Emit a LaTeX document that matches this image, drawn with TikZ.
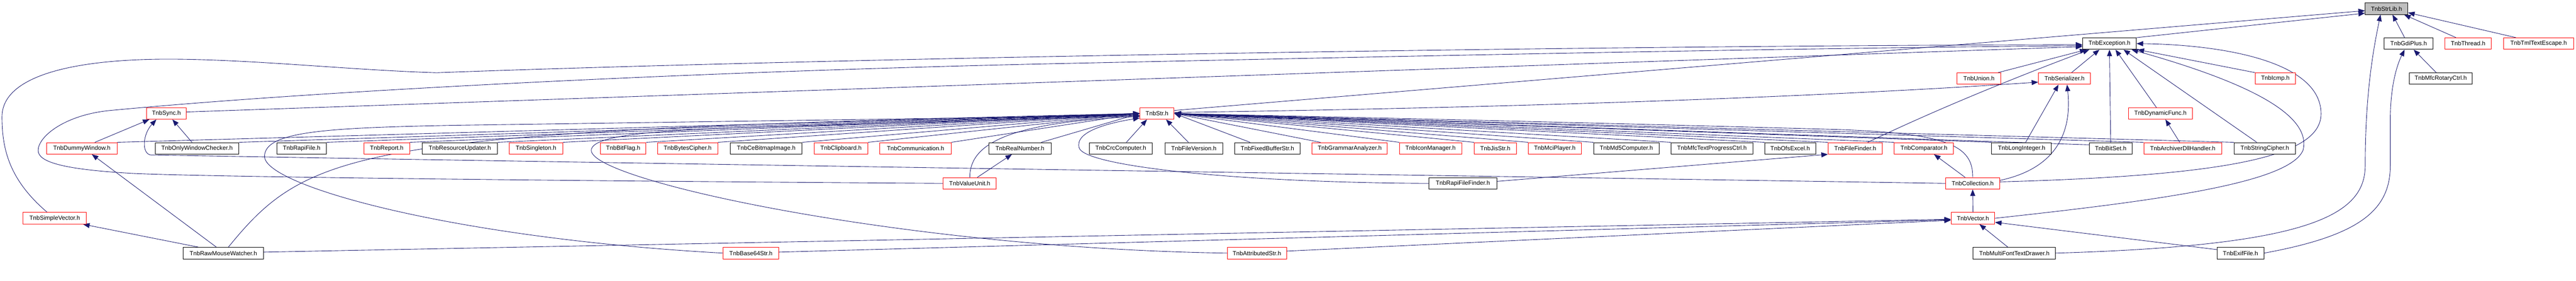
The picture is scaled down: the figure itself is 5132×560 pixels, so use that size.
\documentclass[tikz,border=0pt]{standalone}
\usepackage{fontspec}
\setmainfont{Liberation Sans}
\usetikzlibrary{arrows.meta,calc}
\definecolor{edgeblue}{HTML}{191970}
\definecolor{rootgray}{HTML}{BFBFBF}
\pgfdeclarelayer{bg}
\pgfdeclarelayer{edges}
\pgfsetlayers{bg,edges,main}
\begin{document}
\begin{tikzpicture}[x=1pt,y=-1pt,
  boxb/.style={draw=black, fill=white, line width=1pt, minimum height=23pt, inner sep=0pt, font=\fontsize{12}{14}\selectfont},
  boxr/.style={boxb, draw=red},
  boxg/.style={boxb, fill=rootgray},
  edg/.style={draw=edgeblue, line width=0.9pt, -{Triangle[length=13pt,width=10pt,fill=edgeblue]}},
]
\begin{pgfonlayer}{bg}
\fill[white] (0,0) rectangle (5132,560);
\end{pgfonlayer}
\useasboundingbox (0,0) rectangle (5132,560);

% ---------- nodes ----------
\node[boxg, minimum width=85pt] (strlib) at (4754.5,17.3) {TnbStrLib.h};
\node[boxb, minimum width=107pt] (exc) at (4202.5,87) {TnbException.h};
\node[boxb, minimum width=97pt] (gdi) at (4798.5,87) {TnbGdiPlus.h};
\node[boxr, minimum width=92pt] (thread) at (4917,87) {TnbThread.h};
\node[boxr, minimum width=139pt] (tml) at (5057.5,87) {TnbTmlTextEscape.h};
\node[boxr, minimum width=87pt] (union) at (3942.5,156.8) {TnbUnion.h};
\node[boxr, minimum width=104pt] (ser) at (4113,156.8) {TnbSerializer.h};
\node[boxr, minimum width=80pt] (icmp) at (4533,156.8) {TnbIcmp.h};
\node[boxb, minimum width=125pt] (rot) at (4862.5,156.8) {TnbMfcRotaryCtrl.h};
\node[boxr, minimum width=79pt] (sync) at (331.5,226.3) {TnbSync.h};
\node[boxr, minimum width=68pt] (str) at (2305,226.3) {TnbStr.h};
\node[boxr, minimum width=128pt] (dfunc) at (4304,226.3) {TnbDynamicFunc.h};
% row 4
\node[boxr, minimum width=140pt] (dw) at (163,295.8) {TnbDummyWindow.h};
\node[boxb, minimum width=167pt] (owc) at (392.5,295.8) {TnbOnlyWindowChecker.h};
\node[boxb, minimum width=98pt] (rapi) at (601,295.8) {TnbRapiFile.h};
\node[boxr, minimum width=91pt] (report) at (770.5,295.8) {TnbReport.h};
\node[boxb, minimum width=150pt] (resupd) at (916,295.8) {TnbResourceUpdater.h};
\node[boxr, minimum width=106pt] (single) at (1068,295.8) {TnbSingleton.h};
\node[boxr, minimum width=91pt] (bitflag) at (1241.5,295.8) {TnbBitFlag.h};
\node[boxr, minimum width=120pt] (bcipher) at (1370,295.8) {TnbBytesCipher.h};
\node[boxb, minimum width=143pt] (cebmp) at (1526.5,295.8) {TnbCeBitmapImage.h};
\node[boxr, minimum width=107pt] (clip) at (1675.5,295.8) {TnbClipboard.h};
\node[boxr, minimum width=142pt] (comm) at (1824,295.8) {TnbCommunication.h};
\node[boxb, minimum width=124pt] (realn) at (2032,295.8) {TnbRealNumber.h};
\node[boxb, minimum width=126pt] (crc) at (2233,295.8) {TnbCrcComputer.h};
\node[boxb, minimum width=115pt] (fver) at (2378.5,295.8) {TnbFileVersion.h};
\node[boxb, minimum width=130pt] (fbs) at (2525,295.8) {TnbFixedBufferStr.h};
\node[boxr, minimum width=150pt] (gram) at (2689,295.8) {TnbGrammarAnalyzer.h};
\node[boxr, minimum width=124pt] (icon) at (2850,295.8) {TnbIconManager.h};
\node[boxr, minimum width=84pt] (jis) at (2979,295.8) {TnbJisStr.h};
\node[boxr, minimum width=105pt] (mci) at (3097.5,295.8) {TnbMciPlayer.h};
\node[boxb, minimum width=130pt] (md5) at (3240,295.8) {TnbMd5Computer.h};
\node[boxb, minimum width=163pt] (mtpc) at (3410.5,295.8) {TnbMfcTextProgressCtrl.h};
\node[boxb, minimum width=101pt] (ofs) at (3566.5,295.8) {TnbOfsExcel.h};
\node[boxr, minimum width=108pt] (ff) at (3696,295.8) {TnbFileFinder.h};
\node[boxr, minimum width=118pt] (comp) at (3833,295.8) {TnbComparator.h};
\node[boxb, minimum width=119pt] (li) at (4027.5,295.8) {TnbLongInteger.h};
\node[boxb, minimum width=86pt] (bitset) at (4205,295.8) {TnbBitSet.h};
\node[boxr, minimum width=155pt] (adh) at (4348.5,295.8) {TnbArchiverDllHandler.h};
\node[boxb, minimum width=122pt] (sc) at (4512,295.8) {TnbStringCipher.h};
% row 5
\node[boxr, minimum width=106pt] (vu) at (1932,365.7) {TnbValueUnit.h};
\node[boxb, minimum width=135pt] (rff) at (2914.5,365.7) {TnbRapiFileFinder.h};
\node[boxr, minimum width=108pt] (coll) at (3930,365.7) {TnbCollection.h};
% row 6
\node[boxr, minimum width=126pt] (sv) at (109,435.3) {TnbSimpleVector.h};
\node[boxr, minimum width=87pt] (vec) at (3930.5,435.3) {TnbVector.h};
% row 7
\node[boxb, minimum width=160pt] (rmw) at (445,504.8) {TnbRawMouseWatcher.h};
\node[boxr, minimum width=110pt] (b64) at (1496,504.8) {TnbBase64Str.h};
\node[boxr, minimum width=118pt] (astr) at (2504,504.8) {TnbAttributedStr.h};
\node[boxb, minimum width=164pt] (mftd) at (4013,504.8) {TnbMultiFontTextDrawer.h};
\node[boxb, minimum width=93pt] (exif) at (4463.5,504.8) {TnbExifFile.h};

% ---------- edges (on a layer below the nodes) ----------
\begin{pgfonlayer}{edges}
% into StrLib
\draw[edg] (exc.north east) -- ($(strlib.south west)+(0,-3)$);
\draw[edg] ($(str.north east)+(0,6)$) -- ($(strlib.west)+(0,4)$);
\draw[edg] (mftd.east) .. controls (4600,490) and (4712,430) .. (4712,330) .. controls (4712,180) and (4730,90) .. ($(strlib.south)+(-12,0)$);
\draw[edg] ($(gdi.north)+(-8,0)$) -- ($(strlib.south)+(12,0)$);
\draw[edg] ($(thread.north)+(-24,0)$) -- ($(strlib.south east)+(-8,0)$);
\draw[edg] ($(tml.north)+(-45,0)$) -- ($(strlib.east)+(0,8)$);
% into GdiPlus
\draw[edg] ($(rot.north)+(-9,0)$) -- ($(gdi.south)+(10,0)$);
\draw[edg] (exif.east) .. controls (4700,470) and (4762,420) .. (4762,330) -- (4762,240) .. controls (4762,160) and (4780,120) .. ($(gdi.south)+(-8,0)$);
% into Exception
\draw[edg] ($(sv.north)+(-15,0)$) .. controls (20,360) and (4,300) .. (4,233) .. controls (4,150) and (150,118) .. (335,118) .. controls (500,118) and (700,140) .. (870,145) .. controls (1600,118) and (3000,92) .. ($(exc.west)+(0,2)$);
\draw[edg] (vu.west) .. controls (1000,360) and (400,352) .. (268,346) .. controls (120,338) and (76,322) .. (76,300) .. controls (76,272) and (130,228) .. (223,220) .. controls (700,175) and (1500,140) .. (2100,127) .. controls (2800,112) and (3500,97) .. ($(exc.west)+(0,4)$);
\draw[edg] ($(sync.east)+(0,-3)$) -- ($(exc.west)+(0,6)$);
\draw[edg] ($(union.north east)+(-6,0)$) -- ($(exc.south west)+(8,0)$);
\draw[edg] ($(ff.north)+(25,0)$) .. controls (3850,222) and (4000,160) .. ($(exc.south west)+(14,0)$);
\draw[edg] ($(ser.north)+(14,0)$) -- ($(exc.south)+(-20,0)$);
\draw[edg] (bitset.north) -- (exc.south);
\draw[edg] ($(dfunc.north)+(-8,0)$) -- ($(exc.south)+(12,0)$);
\draw[edg] ($(sc.north)+(-16,0)$) -- ($(exc.south)+(28,0)$);
\draw[edg] (vec.east) .. controls (4300,400) and (4560,365) .. (4588,300) .. controls (4605,235) and (4500,170) .. ($(exc.south east)+(-10,0)$);
\draw[edg] ($(coll.east)+(0,-3)$) .. controls (4450,350) and (4624,310) .. (4624,227) .. controls (4624,120) and (4420,89) .. (exc.east);
\draw[edg] (icmp.north west) -- ($(exc.south east)+(2,0)$);
% into Str (left side)
\foreach \n in {dw,owc,rapi,report,resupd,single,bitflag,bcipher,cebmp,clip,comm}
  \draw[edg] (\n.north east) -- (str.west);
\draw[edg] ($(realn.north east)+(-20,0)$) -- (str.west);
\draw[edg] ($(rmw.north)+(10,0)$) .. controls (620,290) and (720,262) .. (str.west);
\draw[edg] (vu.north) .. controls (1932,290) and (2000,245) .. ($(str.west)+(0,6)$);
\draw[edg] (b64.west) .. controls (900,475) and (527,370) .. (527,312) .. controls (527,262) and (650,255) .. (900,250) -- ($(str.west)+(0,4)$);
\draw[edg] (astr.west) .. controls (1800,495) and (1178,360) .. (1178,300) .. controls (1178,270) and (1300,260) .. (1500,254) -- ($(str.west)+(0,5)$);
% into Str (bottom)
\draw[edg] ($(crc.north)+(11,0)$) -- ($(str.south)+(-20,0)$);
\draw[edg] ($(fver.north)+(-11,0)$) -- ($(str.south)+(18,0)$);
% into Str (right side)
\draw[edg] ($(fbs.north west)+(31,0)$) -- (str.east);
\draw[edg] ($(gram.north west)+(17,0)$) -- (str.east);
\foreach \n in {icon,jis,mci,md5,mtpc,ofs,ff,comp,li,adh,sc}
  \draw[edg] (\n.north west) -- (str.east);
\draw[edg] ($(bitset.north west)+(0,5)$) -- (str.east);
\draw[edg] (rff.west) .. controls (2450,364) and (2160,330) .. (2150,295) .. controls (2140,262) and (2210,245) .. ($(str.south west)+(0,-3)$);
\draw[edg] (coll.north) .. controls (3931,290) and (3880,265) .. (3650,258) .. controls (3000,240) and (2500,230) .. (str.east);
% into Sync
\draw[edg] ($(dw.north)+(26,0)$) -- ($(sync.south west)+(6,0)$);
\draw[edg] ($(owc.north)+(-10,0)$) -- ($(sync.south)+(12,0)$);
\draw[edg] (coll.west) .. controls (3000,352) and (1200,325) .. (300,309) .. controls (282,306) and (284,268) .. ($(sync.south)+(-20,0)$);
% into DummyWindow / SimpleVector
\draw[edg] ($(rmw.north)+(-14,0)$) -- ($(dw.south)+(20,0)$);
\draw[edg] ($(rmw.north)+(-50,0)$) -- ($(sv.south east)+(-7,0)$);
% into RealNumber
\draw[edg] ($(vu.north)+(15,0)$) -- ($(realn.south)+(-16,0)$);
% into Serializer
\draw[edg] ($(str.east)+(0,-2)$) .. controls (3000,215) and (3600,195) .. ($(ser.west)+(0,7)$);
\draw[edg] ($(li.north)+(8,0)$) -- ($(ser.south)+(-12,0)$);
\draw[edg] ($(coll.east)+(0,-6)$) .. controls (4100,335) and (4128,260) .. ($(ser.south)+(5,0)$);
% into FileFinder, Comparator, Collection
\draw[edg] ($(rff.east)+(0,-4)$) -- (ff.south west);
\draw[edg] ($(coll.north)+(-15,0)$) -- ($(comp.south)+(20,0)$);
\draw[edg] (vec.north) -- (coll.south);
% into Vector
\draw[edg] ($(rmw.east)+(0,-2)$) -- ($(vec.west)+(0,2)$);
\draw[edg] ($(b64.east)+(0,-2)$) -- ($(vec.west)+(0,3)$);
\draw[edg] ($(astr.east)+(0,-4)$) -- ($(vec.west)+(0,4)$);
\draw[edg] ($(exif.west)+(0,-7)$) -- ($(vec.east)+(0,8)$);
\draw[edg] ($(mftd.north)+(-13,0)$) -- ($(vec.south)+(13,0)$);
% into DynamicFunc
\draw[edg] ($(adh.north)+(-6,0)$) -- ($(dfunc.south)+(10,0)$);
\end{pgfonlayer}
\end{tikzpicture}
\end{document}
